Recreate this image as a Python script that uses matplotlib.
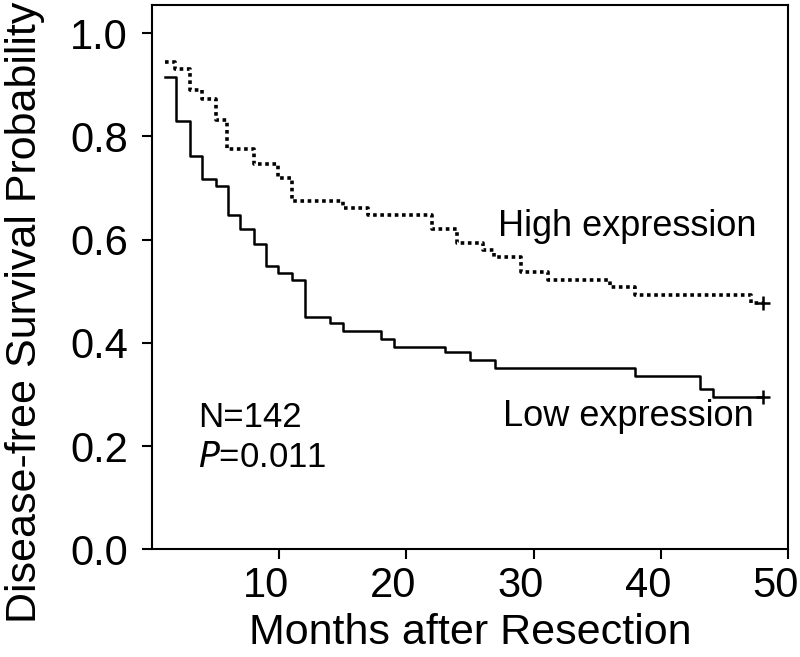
import matplotlib
matplotlib.use('Agg')
import matplotlib.pyplot as plt
import matplotlib.transforms as mtransforms

# Kaplan-Meier steps (months, survival probability)
high_months = [1.0, 1.8, 3.0, 3.9, 5.0, 5.9, 8.0, 9.9, 11.0, 15.0, 17.0, 22.0,
               24.0, 26.0, 26.9, 29.0, 31.1, 36.0, 38.0, 47.1, 48.0]
high_surv = [0.944, 0.930, 0.890, 0.872, 0.831, 0.775, 0.746, 0.719, 0.674, 0.662,
             0.647, 0.620, 0.593, 0.579, 0.566, 0.537, 0.521, 0.508, 0.492, 0.477, 0.477]

low_months = [1.0, 1.9, 3.0, 3.9, 5.0, 6.0, 6.9, 8.0, 9.0, 9.9, 11.0, 12.0, 14.0,
              15.0, 18.0, 19.0, 23.0, 25.0, 27.0, 38.0, 43.1, 44.1, 48.0]
low_surv = [0.915, 0.830, 0.762, 0.717, 0.704, 0.647, 0.620, 0.591, 0.548, 0.535,
            0.521, 0.450, 0.438, 0.423, 0.407, 0.392, 0.382, 0.366, 0.351, 0.335,
            0.310, 0.295, 0.295]

x_ticks = [10, 20, 30, 40, 50]
y_ticks = [0.0, 0.2, 0.4, 0.6, 0.8, 1.0]

plt.rcParams['font.family'] = ['Liberation Sans', 'DejaVu Sans']

fig = plt.figure(figsize=(8, 6.57), dpi=100)
ax = fig.add_axes([0.19, 0.164, 0.795, 0.828])

ax.step(high_months, high_surv, where='post', color='black', linestyle=(0, (1, 1)), linewidth=2.6)
ax.step(low_months, low_surv, where='post', color='black', linestyle='-', linewidth=1.8)
ax.plot([high_months[-1]], [high_surv[-1]], marker='+', color='black', markersize=10, markeredgewidth=1.8)
ax.plot([low_months[-1]], [low_surv[-1]], marker='+', color='black', markersize=10, markeredgewidth=1.8)

ax.text(27.2, 0.626, 'High expression', fontsize=26, va='center', ha='left')
ax.text(27.6, 0.258, 'Low expression', fontsize=26, va='center', ha='left')
ax.text(3.6, 0.256, 'N=142', fontsize=25, va='center', ha='left')
ax.text(3.6, 0.178, r'$\it{P}$=0.011', fontsize=25, va='center', ha='left')

ax.set_xlim(0, 50)
ax.set_ylim(0, 1.054)
ax.set_xticks(x_ticks)
ax.set_yticks(y_ticks)
ax.set_yticklabels(['%.1f' % v for v in y_ticks])
ax.tick_params(labelsize=30, length=7.2, width=1.5, direction='out')
ax.tick_params(axis='y', pad=10)
ax.tick_params(axis='x', pad=5)
for s in ax.spines.values():
    s.set_linewidth(1.5)

# x tick labels sit a little left of their ticks in the original
shift = mtransforms.ScaledTranslation(-0.13, 0, fig.dpi_scale_trans)
for lab in ax.get_xticklabels():
    lab.set_transform(lab.get_transform() + shift)

ax.set_xlabel('Months after Resection', fontsize=31, labelpad=5)
ax.set_ylabel('Disease-free Survival Probability', fontsize=31, labelpad=18)
ax.yaxis.label.set_y(0.436)

fig.savefig('out.png', dpi=100)
